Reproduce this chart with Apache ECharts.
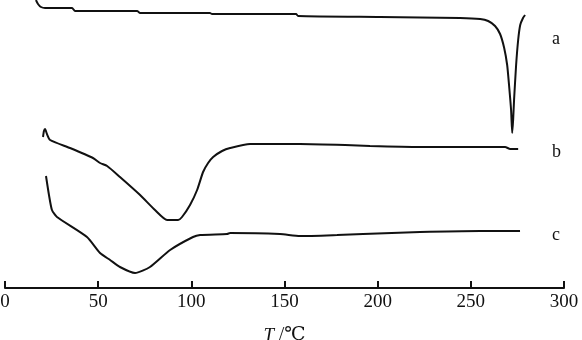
<!DOCTYPE html>
<html lang="zh">
<head>
    <meta charset="UTF-8">
    <title>DSC</title>
    <style>
        *{ margin:0; padding:0; box-sizing:border-box; }
        html, body{ width:582px; height:340px; background:#fff; }
        #myChart{ width:582px; height:340px; }
    </style>
</head>
<body>
<div id="myChart"></div>
<script src="https://cdn.jsdelivr.net/npm/echarts@6/dist/echarts.min.js"></script>
<script>
    // 温度 T/℃ 与热流（相对值，向上为正）
    var curveA = [
        [16.6, 288], [17.7, 284], [19.3, 281], [21.5, 280], [29.5, 280], [36.0, 280],
        [37.6, 277], [70.9, 277], [72.5, 275], [110.0, 275], [111.1, 274], [156.2, 274],
        [157.3, 272], [201.3, 271], [244.2, 270], [255.0, 269], [259.3, 267], [263.0, 262],
        [265.7, 254], [267.9, 240], [269.5, 223], [270.5, 203], [271.6, 178], [272.2, 155],
        [272.7, 168], [273.2, 188], [274.3, 223], [275.4, 248], [276.5, 263], [278.0, 270],
        [279.1, 273]
    ];
    var curveB = [
        [20.4, 151], [20.9, 157], [21.5, 159], [22.5, 154], [24.2, 148], [34.9, 140],
        [47.2, 130], [51.0, 125], [54.8, 122], [61.7, 111], [72.5, 93], [80.5, 78],
        [87.0, 68], [92.9, 68], [95.0, 71], [99.3, 83], [103.1, 98], [106.3, 116],
        [109.0, 125], [111.7, 131], [116.5, 137], [120.8, 140], [131.5, 144], [158.3, 144],
        [182.5, 143], [195.9, 142], [222.8, 141], [268.4, 141], [271.1, 139], [275.4, 139]
    ];
    var curveC = [
        [22.0, 112], [23.6, 93], [25.2, 78], [27.9, 71], [44.0, 51], [51.0, 35],
        [56.4, 28], [61.7, 21], [69.8, 15], [77.8, 21], [88.6, 38], [100.9, 51],
        [104.7, 53], [119.2, 54], [120.8, 55], [147.6, 54], [158.3, 52], [178.2, 53],
        [192.2, 54], [222.8, 56], [255.0, 57], [276.4, 57]
    ];
    var curveNames = ['a', 'b', 'c'];
    var xTicks = [0, 50, 100, 150, 200, 250, 300];

    var myChart = echarts.init(document.getElementById('myChart'));
    var lineStyle = { color:'#111', width:2 };
    var labelFont = '"Liberation Serif", "DejaVu Serif", serif';

    function makeSeries(name, data) {
        return {
            name:name,
            type:'line',
            data:data,
            showSymbol:false,
            smooth:0.2,
            lineStyle:lineStyle,
            silent:true
        };
    }

    var option = {
        animation:false,
        grid:{ left:5, right:18, top:0, bottom:52, outerBoundsMode:'none', containLabel:false },
        xAxis:{
            type:'value',
            min:xTicks[0],
            max:xTicks[xTicks.length - 1],
            interval:50,
            axisLine:{ lineStyle:{ color:'#111', width:2 } },
            axisTick:{ inside:true, length:7, lineStyle:{ color:'#111', width:2 } },
            splitLine:{ show:false },
            axisLabel:{ color:'#111', fontFamily:labelFont, fontSize:19, margin:5 },
            name:'{i|T}{n| /℃}',
            nameLocation:'middle',
            nameGap:38,
            nameTextStyle:{
                rich:{
                    i:{ fontFamily:labelFont, fontStyle:'italic', fontSize:19, color:'#111' },
                    n:{ fontFamily:labelFont, fontSize:19, color:'#111' }
                }
            }
        },
        yAxis:{
            type:'value',
            min:0,
            max:288,
            show:false
        },
        series:[
            makeSeries(curveNames[0], curveA),
            makeSeries(curveNames[1], curveB),
            makeSeries(curveNames[2], curveC)
        ],
        graphic:[
            { type:'text', left:552, top:30, style:{ text:curveNames[0], font:'18px ' + labelFont, fill:'#111' } },
            { type:'text', left:552, top:143, style:{ text:curveNames[1], font:'18px ' + labelFont, fill:'#111' } },
            { type:'text', left:552, top:226, style:{ text:curveNames[2], font:'18px ' + labelFont, fill:'#111' } }
        ]
    };
    myChart.setOption(option);
</script>
</body>
</html>
